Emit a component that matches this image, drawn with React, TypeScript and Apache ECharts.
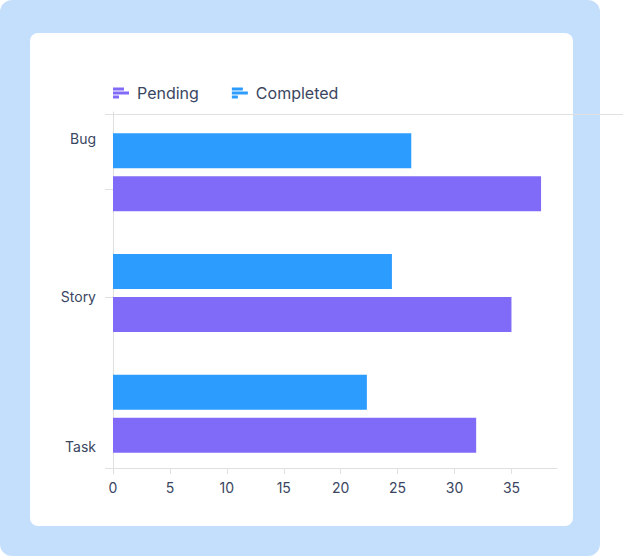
import React, { useEffect, useRef } from "react";
import * as echarts from "echarts";

const categories = ["Bug", "Story", "Task"];
const completed = [26.2, 24.5, 22.3];
const pending = [37.6, 35.0, 31.9];
const xTicks = [0, 5, 10, 15, 20, 25, 30, 35];
const xMax = 39;

const TEXT = "#3A4661";
const GRID_LINE = "#E0E0E0";
const BLUE = "#2D9CFF";
const PURPLE = "#806BF9";
const ICON = "path://M0,0H11V3H0Z M0,4H16V7H0Z M0,8H6V11H0Z";

export default function App() {
  const ref = useRef<HTMLDivElement>(null);

  useEffect(() => {
    if (!ref.current) return;
    const chart = echarts.init(ref.current, undefined, { renderer: "svg" });
    const labelPad: Record<string, number[]> = {
      l0: [0, 0, 68, 0],
      l1: [6, 0, 0, 0],
      l2: [66, 0, 0, 0],
    };
    const rich: Record<string, any> = {};
    Object.keys(labelPad).forEach((k) => {
      rich[k] = {
        padding: labelPad[k],
        color: TEXT,
        fontSize: 14,
        fontFamily: "Inter",
      };
    });
    chart.setOption({
      animation: false,
      textStyle: { fontFamily: "Inter", color: TEXT },
      legend: {
        data: ["Pending", "Completed"],
        left: 108,
        top: 80,
        itemWidth: 16,
        itemHeight: 11,
        itemGap: 33,
        icon: ICON,
        textStyle: { fontSize: 16, color: TEXT, fontFamily: "Inter", padding: [0, 0, 0, 3] },
      },
      grid: { left: 113, right: 66, top: 112, bottom: 82, containLabel: false },
      xAxis: {
        type: "value",
        min: 0,
        max: xMax,
        interval: 5,
        offset: -6,
        axisLine: { show: true, lineStyle: { color: GRID_LINE } },
        axisTick: { show: true, length: 6, lineStyle: { color: GRID_LINE }, customValues: xTicks },
        axisLabel: {
          customValues: xTicks,
          fontSize: 14,
          color: TEXT,
          margin: 12,
          fontFamily: "Inter",
        },
        splitLine: { show: false },
      },
      yAxis: {
        type: "category",
        data: categories,
        inverse: true,
        axisLine: { show: true, lineStyle: { color: GRID_LINE } },
        axisTick: { show: false },
        axisLabel: {
          margin: 17,
          fontSize: 14,
          color: TEXT,
          fontFamily: "Inter",
          formatter: (v: string, i: number) => `{l${i}|${v}}`,
          rich,
        },
      },
      series: [
        {
          name: "Completed",
          type: "bar",
          data: completed,
          barWidth: 35,
          barGap: "23%",
          itemStyle: { color: BLUE },
        },
        {
          name: "Pending",
          type: "bar",
          data: pending,
          barWidth: 35,
          barGap: "23%",
          itemStyle: { color: PURPLE },
        },
      ],
      graphic: [
        { type: "line", shape: { x1: 105, y1: 114.5, x2: 623, y2: 114.5 }, style: { stroke: GRID_LINE, lineWidth: 1 }, z: 10 },
        { type: "line", shape: { x1: 105, y1: 468.5, x2: 113, y2: 468.5 }, style: { stroke: GRID_LINE, lineWidth: 1 }, z: 10 },
        { type: "line", shape: { x1: 105, y1: 189.5, x2: 113, y2: 189.5 }, style: { stroke: GRID_LINE, lineWidth: 1 }, z: 10 },
        { type: "line", shape: { x1: 105, y1: 297.5, x2: 113, y2: 297.5 }, style: { stroke: GRID_LINE, lineWidth: 1 }, z: 10 },
      ],
    });
    return () => chart.dispose();
  }, []);

  return (
    <div style={{ position: "fixed", left: 0, top: 0, width: 623, height: 556, background: "#fff", overflow: "hidden" }}>
      <div style={{ position: "absolute", left: 0, top: 0, width: 600, height: 556, borderRadius: 12, background: "#C4DFFC" }} />
      <div style={{ position: "absolute", left: 30, top: 33, width: 543, height: 493, borderRadius: 8, background: "#fff" }} />
      <div ref={ref} style={{ position: "absolute", left: 0, top: 0, width: 623, height: 556 }} />
    </div>
  );
}
